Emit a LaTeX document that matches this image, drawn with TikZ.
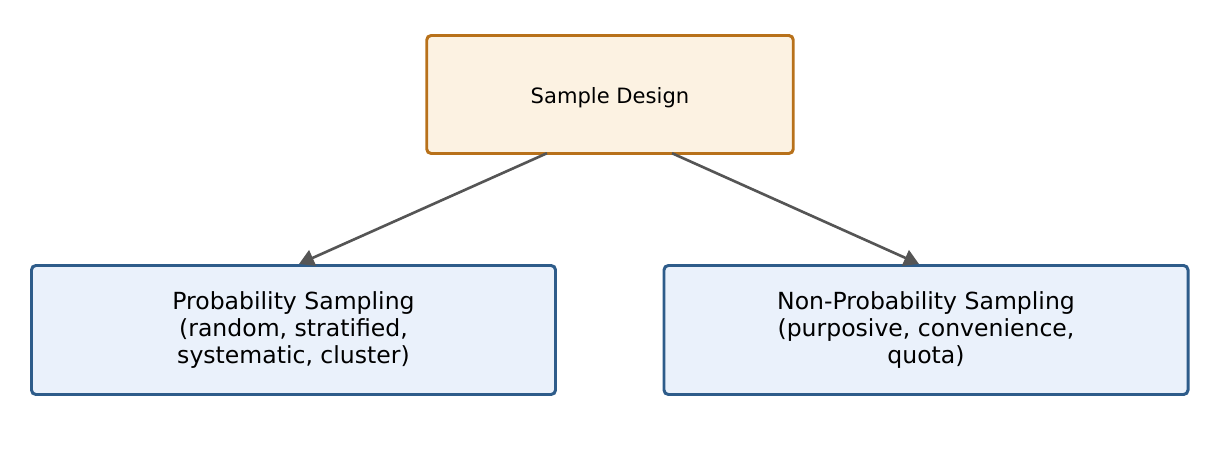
\documentclass[tikz,border=0pt]{standalone}
\usepackage{fontspec}
\setmainfont{DejaVu Sans}
\usetikzlibrary{arrows.meta}
\definecolor{topfill}{HTML}{FCF2E2}
\definecolor{topline}{HTML}{B8711A}
\definecolor{botfill}{HTML}{EAF1FB}
\definecolor{botline}{HTML}{2E5C8A}
\definecolor{arrowgray}{HTML}{555555}
\begin{document}
\begin{tikzpicture}
\useasboundingbox (0,0) rectangle (24.38,-9.04);
\tikzset{
  designbox/.style = {draw = topline, fill = topfill, line width = 1.7pt, rounded corners = 2.5pt,
    minimum width = 7.33cm, minimum height = 2.36cm, text height = 9.7pt, text depth = 0pt,
    font = \fontsize{12}{14.4}\selectfont},
  methodbox/.style = {draw = botline, fill = botfill, line width = 1.7pt, rounded corners = 2.5pt,
    minimum width = 10.48cm, minimum height = 2.58cm, align = center, font = \fontsize{13.4}{15.4}\selectfont},
  link/.style = {draw = arrowgray, line width = 1.5pt, -{Triangle[length=8.5pt, width=9.5pt]}}
}
\node [designbox] (design) at (12.2, -1.89) {Sample Design};
\node [methodbox] (prob) at (5.87, -6.6) {Probability Sampling\\(random, stratified,\\systematic, cluster)};
\node [methodbox] (nonprob) at (18.52, -6.6) {Non-Probability Sampling\\(purposive, convenience,\\quota)};
\draw [link] ([xshift=-1.26cm, yshift=1pt]design.south) -- ([xshift=0.11cm]prob.north);
\draw [link] ([xshift=1.24cm, yshift=1pt]design.south) -- ([xshift=-0.14cm]nonprob.north);
\end{tikzpicture}
\end{document}
